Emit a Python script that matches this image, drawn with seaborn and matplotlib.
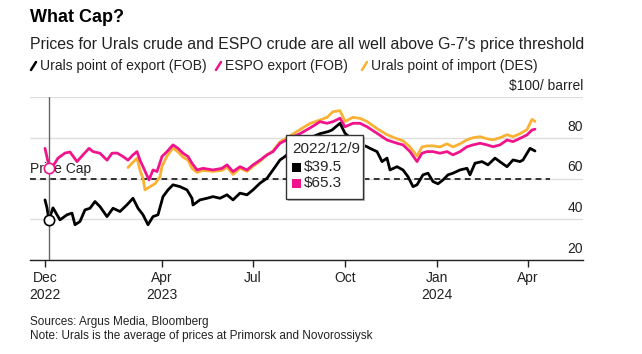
import pandas as pd
import matplotlib.pyplot as plt
from matplotlib.lines import Line2D
from matplotlib.patches import Rectangle
import seaborn as sns

# Urals point of export (FOB), $/barrel
urals_fob_dates = [
    "2022-12-05", "2022-12-07", "2022-12-09", "2022-12-10", "2022-12-13", "2022-12-17",
    "2022-12-20", "2022-12-27", "2023-01-01", "2023-01-04", "2023-01-09", "2023-01-14",
    "2023-01-19", "2023-01-24", "2023-01-29", "2023-02-05", "2023-02-11", "2023-02-18",
    "2023-02-25", "2023-03-03", "2023-03-08", "2023-03-13", "2023-03-18", "2023-03-23",
    "2023-03-28", "2023-04-02", "2023-04-07", "2023-04-12", "2023-04-19", "2023-04-26",
    "2023-05-01", "2023-05-02", "2023-05-09", "2023-05-16", "2023-05-22", "2023-05-29",
    "2023-06-05", "2023-06-11", "2023-06-18", "2023-06-25", "2023-07-01", "2023-07-08",
    "2023-07-15", "2023-07-21", "2023-07-28", "2023-08-02", "2023-08-07", "2023-08-17",
    "2023-08-27", "2023-09-06", "2023-09-14", "2023-09-18", "2023-09-26", "2023-10-01",
    "2023-10-11", "2023-10-23", "2023-10-26", "2023-11-02", "2023-11-07", "2023-11-12",
    "2023-11-15", "2023-11-22", "2023-11-28", "2023-12-03", "2023-12-08", "2023-12-12",
    "2023-12-18", "2023-12-23", "2023-12-28", "2024-01-02", "2024-01-07", "2024-01-12",
    "2024-01-17", "2024-01-24", "2024-01-31", "2024-02-03", "2024-02-08", "2024-02-15",
    "2024-02-21", "2024-02-28", "2024-03-06", "2024-03-11", "2024-03-17", "2024-03-24",
    "2024-03-27", "2024-04-03", "2024-04-08",
]
urals_fob = [
    49.5, 45.6, 39.5, 41.3, 45.6, 42.2,
    39.7, 42.2, 43.0, 37.3, 38.9, 44.6,
    45.4, 48.7, 46.2, 41.3, 45.4, 43.8,
    47.1, 50.3, 45.4, 42.2, 37.3, 41.3,
    42.2, 51.1, 54.4, 56.9, 56.0, 54.4,
    50.3, 47.0, 49.5, 50.3, 51.1, 50.3,
    52.0, 49.5, 52.8, 52.0, 54.4, 57.7,
    60.1, 64.2, 69.1, 70.8, 73.0, 77.0,
    80.0, 82.0, 83.0, 83.8, 87.1, 82.2,
    78.0, 75.6, 74.8, 73.2, 68.3, 70.0,
    64.2, 65.8, 64.2, 60.9, 56.0, 56.9,
    61.8, 62.6, 58.5, 57.4, 59.3, 61.8,
    62.6, 64.2, 65.0, 61.8, 67.5, 68.3,
    66.7, 70.0, 67.5, 65.8, 69.1, 68.3,
    69.1, 74.8, 73.5,
]

# ESPO export (FOB)
espo_dates = [
    "2022-12-05", "2022-12-08", "2022-12-12", "2022-12-18", "2022-12-25", "2022-12-30",
    "2023-01-06", "2023-01-12", "2023-01-18", "2023-01-22", "2023-01-29", "2023-02-05",
    "2023-02-10", "2023-02-15", "2023-02-21", "2023-02-26", "2023-03-03", "2023-03-07",
    "2023-03-10", "2023-03-13", "2023-03-19", "2023-03-23", "2023-03-27", "2023-04-01",
    "2023-04-06", "2023-04-12", "2023-04-17", "2023-04-22", "2023-04-27", "2023-05-01",
    "2023-05-06", "2023-05-12", "2023-05-22", "2023-05-31", "2023-06-05", "2023-06-11",
    "2023-06-18", "2023-06-25", "2023-07-01", "2023-07-08", "2023-07-15", "2023-07-21",
    "2023-07-28", "2023-08-04", "2023-08-17", "2023-08-27", "2023-09-01", "2023-09-06",
    "2023-09-13", "2023-09-19", "2023-09-26", "2023-10-01", "2023-10-09", "2023-10-16",
    "2023-10-23", "2023-11-02", "2023-11-12", "2023-11-22", "2023-11-28", "2023-12-05",
    "2023-12-12", "2023-12-17", "2023-12-22", "2023-12-28", "2024-01-04", "2024-01-11",
    "2024-01-17", "2024-01-24", "2024-01-31", "2024-02-06", "2024-02-13", "2024-02-20",
    "2024-02-26", "2024-03-04", "2024-03-11", "2024-03-17", "2024-03-24", "2024-03-31",
    "2024-04-05", "2024-04-08",
]
espo = [
    74.8, 68.3, 65.3, 70.0, 72.5, 73.0,
    68.3, 71.6, 74.8, 73.2, 72.4, 69.0,
    72.4, 72.5, 70.8, 69.0, 71.6, 73.2,
    69.0, 65.8, 59.3, 64.2, 63.4, 70.8,
    73.2, 76.5, 74.8, 72.4, 70.8, 67.5,
    64.2, 65.0, 64.2, 65.0, 66.7, 63.4,
    65.8, 64.2, 66.7, 69.0, 71.6, 73.2,
    77.3, 79.0, 82.0, 84.8, 86.3, 87.9,
    87.1, 87.9, 89.6, 85.4, 87.1, 87.1,
    85.4, 82.2, 78.9, 77.3, 76.5, 73.2,
    68.3, 72.4, 73.2, 73.2, 72.4, 73.2,
    71.6, 73.2, 75.6, 76.5, 77.3, 76.5,
    75.6, 76.5, 78.9, 78.1, 79.7, 81.4,
    83.8, 84.2,
]

# Urals point of import (DES)
urals_des_dates = [
    "2023-02-26", "2023-03-03", "2023-03-07", "2023-03-10", "2023-03-13", "2023-03-15",
    "2023-03-20", "2023-03-25", "2023-03-30", "2023-04-01", "2023-04-06", "2023-04-12",
    "2023-04-17", "2023-04-22", "2023-04-27", "2023-05-01", "2023-05-06", "2023-05-12",
    "2023-05-22", "2023-05-31", "2023-06-05", "2023-06-11", "2023-06-18", "2023-06-25",
    "2023-07-01", "2023-07-08", "2023-07-15", "2023-07-21", "2023-07-28", "2023-08-04",
    "2023-08-17", "2023-08-27", "2023-09-06", "2023-09-13", "2023-09-19", "2023-09-26",
    "2023-10-01", "2023-10-09", "2023-10-16", "2023-10-23", "2023-11-02", "2023-11-12",
    "2023-11-22", "2023-11-28", "2023-12-05", "2023-12-12", "2023-12-17", "2023-12-22",
    "2023-12-28", "2024-01-04", "2024-01-11", "2024-01-17", "2024-01-24", "2024-01-31",
    "2024-02-06", "2024-02-13", "2024-02-20", "2024-02-26", "2024-03-04", "2024-03-11",
    "2024-03-17", "2024-03-24", "2024-03-31", "2024-04-05", "2024-04-08",
]
urals_des = [
    65.4, 68.0, 70.0, 64.0, 60.0, 54.4,
    56.0, 57.4, 60.9, 66.0, 71.0, 75.0,
    73.0, 70.5, 69.0, 65.0, 63.0, 64.0,
    63.5, 64.0, 65.5, 62.0, 65.0, 63.5,
    66.0, 68.5, 71.5, 73.5, 78.0, 80.0,
    84.0, 87.0, 88.7, 90.0, 92.8, 93.3,
    88.0, 90.0, 89.5, 88.0, 84.5, 81.5,
    79.5, 78.5, 75.5, 71.0, 75.5, 76.0,
    76.0, 75.5, 77.0, 75.5, 77.0, 79.0,
    80.0, 80.5, 79.5, 79.0, 80.0, 81.5,
    80.5, 82.0, 84.0, 89.0, 88.0,
]

price_cap = 60
hover_date = "2022-12-09"
hover_fob = 39.5
hover_espo = 65.3

y_ticks = [20, 40, 60, 80, 100]
y_tick_labels = ["20", "40", "60", "80", "$100/ barrel"]
x_tick_dates = ["2022-12-05", "2023-04-01", "2023-07-01", "2023-10-01", "2024-01-01", "2024-04-01"]
x_tick_labels = ["Dec\n2022", "Apr\n2023", "Jul", "Oct", "Jan\n2024", "Apr"]

BLACK = "#000000"
PINK = "#f0148c"
ORANGE = "#f9b233"

sns.set_theme(style="white")
plt.rcParams["font.family"] = ["Liberation Sans", "DejaVu Sans"]

W, H = 642, 354
fig = plt.figure(figsize=(W / 100, H / 100), dpi=100)
ax = fig.add_axes([30 / W, (H - 260) / H, 553 / W, 163 / H])

sns.lineplot(x=pd.to_datetime(urals_des_dates), y=urals_des, ax=ax, color=ORANGE, lw=2, zorder=3)
sns.lineplot(x=pd.to_datetime(espo_dates), y=espo, ax=ax, color=PINK, lw=2, zorder=4)
sns.lineplot(x=pd.to_datetime(urals_fob_dates), y=urals_fob, ax=ax, color=BLACK, lw=2, zorder=5)

ax.set_xlim(pd.Timestamp("2022-11-20"), pd.Timestamp("2024-05-26"))
ax.set_ylim(20, 100)

# grid + y labels inside at the right
ax.set_yticks(y_ticks)
ax.set_yticklabels([])
ax.tick_params(axis="y", length=0)
ax.grid(axis="y", color="#dedede", lw=1, zorder=0)
for v, lab in zip(y_ticks, y_tick_labels):
    ax.annotate(lab, xy=(1.0, v), xycoords=ax.get_yaxis_transform(), xytext=(0, 3),
                textcoords="offset points", ha="right", va="bottom", fontsize=10, color="#222222")

ax.axhline(price_cap, xmin=0, xmax=0.94, color="#333333", lw=1.4, ls=(0, (3, 2.2)), zorder=2)
ax.annotate("Price Cap", xy=(0, price_cap), xycoords=ax.get_yaxis_transform(), xytext=(0, 1.5),
            textcoords="offset points", ha="left", va="bottom", fontsize=10, color="#222222", zorder=6)

# x axis
ax.set_xticks(pd.to_datetime(x_tick_dates))
ax.set_xticklabels(x_tick_labels, fontsize=10, color="#222222", linespacing=1.3)
ax.tick_params(axis="x", length=5, width=1, color="#222222", pad=3, bottom=True)
for s in ["top", "right", "left"]:
    ax.spines[s].set_visible(False)
ax.spines["bottom"].set_color("#222222")
ax.spines["bottom"].set_linewidth(1)
ax.set_xlabel("")
ax.set_ylabel("")

# hover marker
hd = pd.Timestamp(hover_date)
ax.axvline(hd, color="#666666", lw=1, zorder=6)
ax.scatter([hd], [hover_fob], s=55, facecolor="white", edgecolor=BLACK, lw=1.2, zorder=7)
ax.scatter([hd], [hover_espo], s=55, facecolor="white", edgecolor=PINK, lw=1.2, zorder=7)

# tooltip
bx0, bx1 = (286 - 30) / 553, (363 - 30) / 553
by0, by1 = (260 - 199) / 163, (260 - 135) / 163
ax.add_patch(Rectangle((bx0 + 0.003, by0 - 0.012), bx1 - bx0, by1 - by0, transform=ax.transAxes,
                       facecolor="#bbbbbb", edgecolor="none", zorder=8, clip_on=False))
ax.add_patch(Rectangle((bx0, by0), bx1 - bx0, by1 - by0, transform=ax.transAxes,
                       facecolor="white", edgecolor="#333333", lw=1, zorder=9, clip_on=False))
tx = bx0 + 6 / 553
ax.text(tx, (260 - 149) / 163, "2022/12/9", transform=ax.transAxes, fontsize=11, va="center", zorder=10)
for i, (c, v) in enumerate([(BLACK, hover_fob), (PINK, hover_espo)]):
    yy = (260 - (167 + 16 * i)) / 163
    ax.add_patch(Rectangle((tx, yy - 4.5 / 163), 9 / 553, 9 / 163, transform=ax.transAxes,
                           facecolor=c, edgecolor="none", zorder=10, clip_on=False))
    ax.text(tx + 12 / 553, yy, f"${v}", transform=ax.transAxes, fontsize=11, va="center", zorder=10)

# titles
fig.text(30 / W, 1 - 17 / H, "What Cap?", fontsize=13, fontweight="bold", va="center", color="#000000")
fig.text(30 / W, 1 - 44 / H, "Prices for Urals crude and ESPO crude are all well above G-7's price threshold",
         fontsize=11.4, va="center", color="#222222")

# legend row
legend_items = [(BLACK, "Urals point of export (FOB)", 30), (PINK, "ESPO export (FOB)", 215),
                (ORANGE, "Urals point of import (DES)", 361)]
ly = 66
for c, lab, lx in legend_items:
    fig.add_artist(Line2D([(lx + 1) / W, (lx + 6) / W], [1 - (ly + 4) / H, 1 - (ly - 4) / H],
                          color=c, lw=1.8, transform=fig.transFigure))
    fig.text((lx + 10) / W, 1 - ly / H, lab, fontsize=10, va="center", color="#222222")

fig.text(30 / W, 1 - 322 / H, "Sources: Argus Media, Bloomberg", fontsize=8.5, va="center", color="#222222")
fig.text(30 / W, 1 - 336 / H, "Note: Urals is the average of prices at Primorsk and Novorossiysk",
         fontsize=8.5, va="center", color="#222222")

fig.savefig("out.png", dpi=100)
